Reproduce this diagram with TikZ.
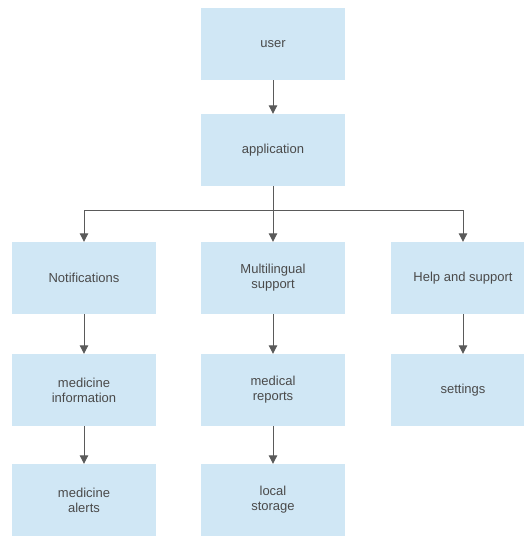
\documentclass[tikz,border=0pt]{standalone}
\usepackage{fontspec}
\setmainfont{Liberation Sans}
\usetikzlibrary{arrows.meta}
\definecolor{boxfill}{HTML}{D0E7F5}
\definecolor{txtgray}{HTML}{4A4A4A}
\definecolor{linegray}{HTML}{5A5A5A}
\begin{document}
\begin{tikzpicture}[x=1pt,y=-1pt,
  box/.style={fill=boxfill,draw=none,minimum width=144pt,minimum height=72pt,inner sep=0pt,
    align=center,text=txtgray,font=\fontsize{13}{15}\selectfont},
  conn/.style={draw=linegray,line width=1pt,-{Triangle[width=8.5pt,length=8.5pt]}}]
\useasboundingbox (0,0) rectangle (523,536);
\node[box] (user) at (273,44) {user};
\node[box] (app) at (273,150) {application};
\node[box] (notif) at (84,278) {Notifications};
\node[box] (multi) at (273,278) {Multilingual\\support};
\node[box] (help) at (463,278) {Help and support};
\node[box] (medinfo) at (84,390) {medicine\\information};
\node[box] (medrep) at (273,390) {medical\\reports};
\node[box] (settings) at (463,390) {settings};
\node[box] (alerts) at (84,500) {medicine\\alerts};
\node[box] (storage) at (273,500) {local\\storage};
\coordinate (branch) at (273,210);
\draw[conn] (user) -- (app);
\draw[draw=linegray,line width=1pt] (app) -- (branch);
\draw[conn] (branch) -| (notif);
\draw[conn] (branch) -- (multi);
\draw[conn] (branch) -| (help);
\draw[conn] (notif) -- (medinfo);
\draw[conn] (medinfo) -- (alerts);
\draw[conn] (multi) -- (medrep);
\draw[conn] (medrep) -- (storage);
\draw[conn] (help) -- (settings);
\end{tikzpicture}
\end{document}
